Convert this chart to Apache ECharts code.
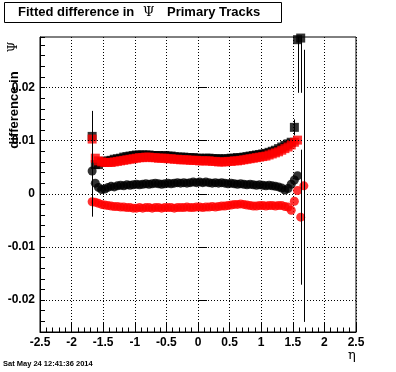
<!DOCTYPE html>
<html><head><meta charset="utf-8">
<script src="https://cdn.jsdelivr.net/npm/echarts@6/dist/echarts.min.js"></script>
<style>html,body{margin:0;padding:0;background:#fff}#c{width:396px;height:372px}</style>
</head><body><div id="c"></div>
<script>
// eta bin centres
const eta = [-1.675,-1.625,-1.575,-1.525,-1.475,-1.425,-1.375,-1.325,-1.275,-1.225,
  -1.175,-1.125,-1.075,-1.025,-0.975,-0.925,-0.875,-0.825,-0.775,-0.725,
  -0.675,-0.625,-0.575,-0.525,-0.475,-0.425,-0.375,-0.325,-0.275,-0.225,
  -0.175,-0.125,-0.075,-0.025,0.025,0.075,0.125,0.175,0.225,0.275,
  0.325,0.375,0.425,0.475,0.525,0.575,0.625,0.675,0.725,0.775,
  0.825,0.875,0.925,0.975,1.025,1.075,1.125,1.175,1.225,1.275,
  1.325,1.375,1.425,1.475,1.525,1.575,1.625,1.675];

const blackSquares = [0.0108,0.0055,0.0055,0.0059,0.0061,0.0062,0.0063,0.0065,0.0066,0.0067,
  0.0069,0.0070,0.0071,0.0072,0.0073,0.0073,0.0073,0.0073,0.0073,0.0072,
  0.0072,0.0072,0.0071,0.0072,0.0071,0.0071,0.0070,0.0069,0.0069,0.0069,
  0.0068,0.0068,0.0068,0.0067,0.0067,0.0066,0.0067,0.0067,0.0066,0.0066,
  0.0066,0.0065,0.0066,0.0066,0.0067,0.0067,0.0068,0.0068,0.0069,0.0070,
  0.0071,0.0072,0.0073,0.0074,0.0075,0.0076,0.0078,0.0080,0.0082,0.0085,
  0.0088,0.0091,0.0094,0.0097,0.0125,0.0290,0.0293,null];

const redSquares = [0.0103,0.0067,0.0062,0.0060,0.0059,0.0059,0.0059,0.0060,0.0061,0.0062,
  0.0063,0.0064,0.0065,0.0066,0.0067,0.0068,0.0068,0.0069,0.0069,0.0068,
  0.0068,0.0067,0.0067,0.0067,0.0066,0.0066,0.0065,0.0065,0.0064,0.0064,
  0.0064,0.0063,0.0063,0.0063,0.0062,0.0062,0.0062,0.0062,0.0061,0.0061,
  0.0060,0.0060,0.0060,0.0061,0.0061,0.0062,0.0062,0.0063,0.0064,0.0065,
  0.0066,0.0067,0.0068,0.0069,0.0070,0.0071,0.0073,0.0075,0.0077,0.0079,
  0.0082,0.0085,0.0088,0.0092,0.0097,0.0101,null,null];

const blackCircles = [0.0043,0.0020,0.0012,0.0008,0.0009,0.0012,0.0014,0.0013,0.0015,0.0016,
  0.0015,0.0017,0.0016,0.0017,0.0018,0.0017,0.0018,0.0019,0.0018,0.0019,
  0.0020,0.0019,0.0018,0.0019,0.0020,0.0019,0.0020,0.0021,0.0020,0.0021,
  0.0020,0.0021,0.0022,0.0021,0.0022,0.0021,0.0022,0.0021,0.0020,0.0021,
  0.0020,0.0021,0.0020,0.0019,0.0020,0.0019,0.0018,0.0019,0.0018,0.0017,
  0.0018,0.0017,0.0016,0.0017,0.0016,0.0015,0.0016,0.0015,0.0014,0.0013,
  0.0011,0.0007,0.0010,0.0018,0.0026,0.0034,null,null];

const redCircles = [-0.0015,-0.0016,-0.0018,-0.0020,-0.0021,-0.0022,-0.0023,-0.0024,-0.0024,-0.0025,
  -0.0025,-0.0026,-0.0026,-0.0027,-0.0027,-0.0026,-0.0027,-0.0026,-0.0026,-0.0027,
  -0.0026,-0.0026,-0.0027,-0.0026,-0.0026,-0.0026,-0.0027,-0.0026,-0.0026,-0.0026,
  -0.0025,-0.0026,-0.0026,-0.0025,-0.0025,-0.0026,-0.0025,-0.0025,-0.0024,-0.0025,
  -0.0024,-0.0023,-0.0023,-0.0022,-0.0021,-0.0020,-0.0020,-0.0019,-0.0020,-0.0021,
  -0.0022,-0.0023,-0.0023,-0.0022,-0.0022,-0.0023,-0.0022,-0.0022,-0.0023,-0.0022,
  -0.0022,-0.0024,-0.0025,-0.0031,-0.0014,0.0006,-0.0044,0.0015];

// visible error bars (index into eta, half-size)
const errIdxBS = [0, 64, 65, 66];
const errBS    = [0.0048, 0.0015, 0.0100, 0.0103];
const errIdxBC = [0];
const errBC    = [0.0086];
const errIdxRC = [66, 67];
const errRC    = [0.0127, 0.0256];

const yLabelValues = [-0.02, -0.01, 0, 0.01, 0.02];

function pts(vals){ return eta.map((x,i)=> vals[i]==null ? null : [x, vals[i]]).filter(Boolean); }
function errs(idx, e, vals){ return idx.map((k,j)=>[eta[k], vals[k]-e[j], vals[k]+e[j]]); }
const errData = [].concat(errs(errIdxBS, errBS, blackSquares), errs(errIdxBC, errBC, blackCircles), errs(errIdxRC, errRC, redCircles));

const FONT = 'Liberation Sans';
const dotted = {color:'#000', width:1, type:[1,2]};
const chart = echarts.init(document.getElementById('c'), null, {renderer:'canvas'});
chart.setOption({
  animation:false,
  backgroundColor:'#fff',
  grid:{left:40, right:40, top:37, bottom:40, show:true, borderColor:'#000', borderWidth:1, backgroundColor:'#fff'},
  xAxis:{type:'value', min:-2.5, max:2.5, interval:0.5,
    axisLine:{show:true, onZero:false, lineStyle:{color:'#000', width:1}},
    axisTick:{show:true, inside:true, length:9, lineStyle:{color:'#000', width:1}},
    minorTick:{show:true, splitNumber:5, length:4.5, lineStyle:{color:'#000', width:1}},
    splitLine:{show:true, lineStyle:dotted},
    axisLabel:{color:'#000', fontFamily:FONT, fontWeight:'bold', fontSize:12, margin:5}
  },
  yAxis:[
    {type:'value', min:-0.026, max:0.0295, interval:0.002, position:'left',
      axisLine:{show:true, onZero:false, lineStyle:{color:'#000', width:1}},
      axisTick:{show:true, inside:true, length:5, lineStyle:{color:'#000', width:1}},
      splitLine:{show:false},
      axisLabel:{show:false}
    },
    {type:'value', min:-0.026, max:0.0295, position:'left', offset:0,
      axisLine:{show:false},
      axisTick:{show:true, inside:true, length:9, customValues:yLabelValues, lineStyle:{color:'#000', width:1}},
      splitLine:{show:false},
      axisLabel:{show:true, customValues:yLabelValues, color:'#000', fontFamily:FONT, fontWeight:'bold', fontSize:12, margin:5,
        formatter:(v)=> (Math.abs(v) < 1e-9 ? '0' : String(+v.toFixed(2)))}
    }
  ],
  series:[
    {type:'scatter', data:[], z:1, silent:true,
      markLine:{silent:true, symbol:'none', label:{show:false}, lineStyle:dotted, animation:false,
        data: yLabelValues.map(v=>({yAxis:v}))}},
    {type:'scatter', name:'bs', data:pts(blackSquares), symbol:'rect', symbolSize:9, itemStyle:{color:'#000'}, z:3, silent:true},
    {type:'scatter', name:'rs', data:pts(redSquares), symbol:'rect', symbolSize:9, itemStyle:{color:'#ff0000'}, z:4, silent:true},
    {type:'scatter', name:'bc', data:pts(blackCircles), symbol:'circle', symbolSize:9, itemStyle:{color:'#000'}, z:5, silent:true},
    {type:'scatter', name:'rc', data:pts(redCircles), symbol:'circle', symbolSize:9, itemStyle:{color:'#ff0000'}, z:6, silent:true},
    {type:'custom', data:errData, z:7, clip:true, silent:true, encode:{x:0, y:[1,2]},
      renderItem:(params, api)=>{
        const x = api.value(0), lo = api.value(1), hi = api.value(2);
        const p1 = api.coord([x, lo]), p2 = api.coord([x, hi]);
        const px = Math.round(p1[0]) + 0.5;
        return {type:'line', shape:{x1:px, y1:p1[1], x2:px, y2:p2[1]}, style:{stroke:'#000', lineWidth:1}};
      }}
  ],
  graphic:[
    {type:'rect', shape:{x:4.5, y:2.5, width:277, height:20}, style:{fill:'#fff', stroke:'#000', lineWidth:1}, z:10},
    {type:'text', x:18, y:12.5, style:{text:'Fitted difference in', font:'bold 13px "Liberation Sans"', fill:'#000', textVerticalAlign:'middle'}, z:11},
    {type:'text', x:143, y:12.5, style:{text:'Ψ', font:'13px "DejaVu Serif"', fill:'#000', textVerticalAlign:'middle'}, z:11},
    {type:'text', x:167, y:12.5, style:{text:'Primary Tracks', font:'bold 13px "Liberation Sans"', fill:'#000', textVerticalAlign:'middle'}, z:11},
    {type:'text', x:14, y:110, rotation:Math.PI/2, style:{text:'difference in', font:'bold 13px "Liberation Sans"', fill:'#000', textAlign:'center', textVerticalAlign:'middle'}, z:11},
    {type:'text', x:14, y:47, rotation:Math.PI/2, style:{text:'Ψ', font:'12px "DejaVu Serif"', fill:'#000', textAlign:'center', textVerticalAlign:'middle'}, z:11},
    {type:'text', x:352, y:356, style:{text:'η', font:'13px "DejaVu Serif"', fill:'#000', textAlign:'center', textVerticalAlign:'middle'}, z:11},
    {type:'text', x:3, y:364, style:{text:'Sat May 24 12:41:36 2014', font:'bold 7.5px "Liberation Sans"', fill:'#000', textVerticalAlign:'middle'}, z:11}
  ]
});
</script></body></html>
